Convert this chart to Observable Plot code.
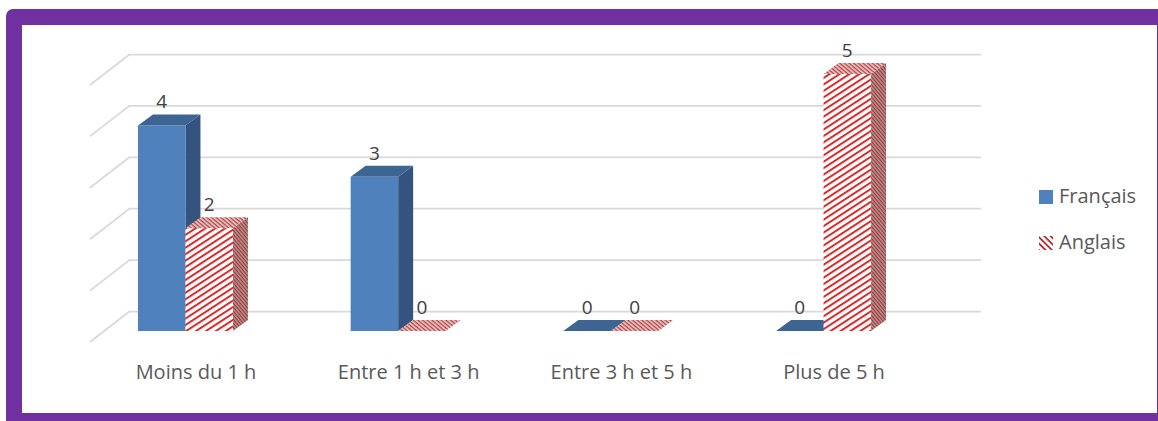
<!DOCTYPE html>
<html>
<head>
<meta charset="utf-8">
<script src="https://cdn.jsdelivr.net/npm/d3@7"></script>
<script src="https://cdn.jsdelivr.net/npm/@observablehq/plot@0.6"></script>
<style>
  html, body { margin: 0; padding: 0; background: #fff; overflow: hidden; width: 1158px; height: 421px; }
  #frame { position: absolute; left: 6px; top: 9px; width: 1135px; height: 388px;
           border: 16px solid #7030A0; border-radius: 7px; background: #fff; }
  #chart { position: absolute; left: 0; top: 0; }
  #legend { position: absolute; left: 0; top: 0; pointer-events: none; }
</style>
</head>
<body>
<div id="frame"></div>
<div id="chart"></div>
<svg id="legend" width="1158" height="421"></svg>
<script>
// Temps passé par semaine, par langue
const categories = ["Moins du 1 h", "Entre 1 h et 3 h", "Entre 3 h et 5 h", "Plus de 5 h"];
const francais = [4, 3, 0, 0];
const anglais = [2, 0, 0, 5];
const seriesNames = ["Français", "Anglais"];
const gridValues = [0, 1, 2, 3, 4, 5];

const rows = categories.flatMap((c, i) => [
  {category: c, series: seriesNames[0], value: francais[i]},
  {category: c, series: seriesNames[1], value: anglais[i]}
]);

// Oblique projection: offsets (px) from the plane of the bar fronts
const BAR_DEPTH = {dx: 15, dy: -11};
const WALL = {dx: 26, dy: -20};
const FLOOR = {dx: -14, dy: 11};

const BLUE = {front: "#4F81BD", top: "#3C6593", side: "#34547F"};
const FONT = "'Open Sans', sans-serif";

function addPatterns(defs) {
  const front = defs.append("pattern").attr("id", "redFront")
    .attr("patternUnits", "userSpaceOnUse").attr("width", 6).attr("height", 5.4)
    .attr("patternTransform", "rotate(-33)");
  front.append("rect").attr("width", 6).attr("height", 5.4).attr("fill", "#fff");
  front.append("rect").attr("width", 6).attr("height", 2).attr("fill", "#D42A2A");

  const top = defs.append("pattern").attr("id", "redTop")
    .attr("patternUnits", "userSpaceOnUse").attr("width", 3).attr("height", 3)
    .attr("patternTransform", "rotate(40)");
  top.append("rect").attr("width", 3).attr("height", 3).attr("fill", "#DCD2D2");
  top.append("rect").attr("width", 3).attr("height", 1.3).attr("fill", "#C83636");

  const side = defs.append("pattern").attr("id", "redSide")
    .attr("patternUnits", "userSpaceOnUse").attr("width", 2.6).attr("height", 2.6)
    .attr("patternTransform", "rotate(50)");
  side.append("rect").attr("width", 2.6).attr("height", 2.6).attr("fill", "#A59A9A");
  side.append("rect").attr("width", 2.6).attr("height", 1.1).attr("fill", "#B52A2A");
}

const FILLS = {
  "Français": {front: BLUE.front, top: BLUE.top, side: BLUE.side},
  "Anglais": {front: "url(#redFront)", top: "url(#redTop)", side: "url(#redSide)"}
};

// Custom mark: side walls of the grid, 3D columns and their value labels
function columns3d(index, scales, values, dim) {
  const x = scales.x, y = scales.y;
  const bw = typeof x.bandwidth === "function" ? x.bandwidth() : x.bandwidth;
  const half = bw / 2;
  const g = d3.create("svg:g");
  addPatterns(g.append("defs"));

  g.append("g").selectAll("line").data(gridValues).join("line")
    .attr("x1", dim.marginLeft + WALL.dx).attr("y1", v => y(v) + WALL.dy)
    .attr("x2", dim.marginLeft + FLOOR.dx).attr("y2", v => y(v) + FLOOR.dy)
    .attr("stroke", "#D9D9D9").attr("stroke-width", 1.75);

  const bars = g.append("g");
  const {dx, dy} = BAR_DEPTH;
  for (const d of rows) {
    const s = seriesNames.indexOf(d.series);
    const x0 = x(d.category) + s * half, x1 = x0 + half;
    const y0 = y(0), yt = y(d.value);
    const f = FILLS[d.series];
    const b = bars.append("g");
    if (d.value > 0) {
      b.append("polygon")
        .attr("points", [[x1, yt], [x1 + dx, yt + dy], [x1 + dx, y0 + dy], [x1, y0]].join(" "))
        .attr("fill", f.side);
    }
    b.append("polygon")
      .attr("points", [[x0, yt], [x1, yt], [x1 + dx, yt + dy], [x0 + dx, yt + dy]].join(" "))
      .attr("fill", f.top);
    if (d.value > 0) {
      b.append("rect").attr("x", x0).attr("y", yt).attr("width", half).attr("height", y0 - yt)
        .attr("fill", f.front);
    }
  }

  g.append("g").selectAll("text").data(rows).join("text")
    .attr("x", d => x(d.category) + seriesNames.indexOf(d.series) * half + half / 2)
    .attr("y", d => y(d.value) + dy - 6)
    .attr("text-anchor", "middle")
    .attr("font-family", FONT).attr("font-size", 19).attr("fill", "#404040")
    .text(d => d.value);
  return g.node();
}

const chart = Plot.plot({
  width: 1158,
  height: 421,
  marginLeft: 104,
  marginRight: 203,
  marginTop: 74,
  marginBottom: 90,
  style: {background: "transparent", fontFamily: FONT, overflow: "visible"},
  x: {type: "band", domain: categories, axis: null, paddingInner: 0.5534, paddingOuter: 0.2772, align: 0.288, round: false},
  y: {domain: [0, 5], axis: null},
  marks: [
    Plot.ruleY(gridValues, {dx: WALL.dx, dy: WALL.dy, stroke: "#D9D9D9", strokeWidth: 1.75}),
    columns3d,
    Plot.text(categories, {x: d => d, frameAnchor: "bottom", lineAnchor: "top", dy: 33, dx: 10,
      fontSize: 20, fill: "#595959", fontFamily: FONT})
  ]
});
document.getElementById("chart").append(chart);

// Legend on the right
const legend = d3.select("#legend");
const ldefs = legend.append("defs");
const lp = ldefs.append("pattern").attr("id", "legendHatch")
  .attr("patternUnits", "userSpaceOnUse").attr("width", 4.5).attr("height", 4.5)
  .attr("patternTransform", "rotate(45)");
lp.append("rect").attr("width", 4.5).attr("height", 4.5).attr("fill", "#fff");
lp.append("rect").attr("width", 4.5).attr("height", 1.6).attr("fill", "#B81010");
const swatches = [BLUE.front, "url(#legendHatch)"];
const items = legend.selectAll("g").data(seriesNames).join("g")
  .attr("transform", (d, i) => `translate(1039, ${190 + i * 46})`);
items.append("rect").attr("width", 14).attr("height", 14).attr("fill", (d, i) => swatches[i]);
items.append("text").attr("x", 20).attr("y", 13)
  .attr("font-family", FONT).attr("font-size", 20).attr("fill", "#595959")
  .text(d => d);
</script>
</body>
</html>
